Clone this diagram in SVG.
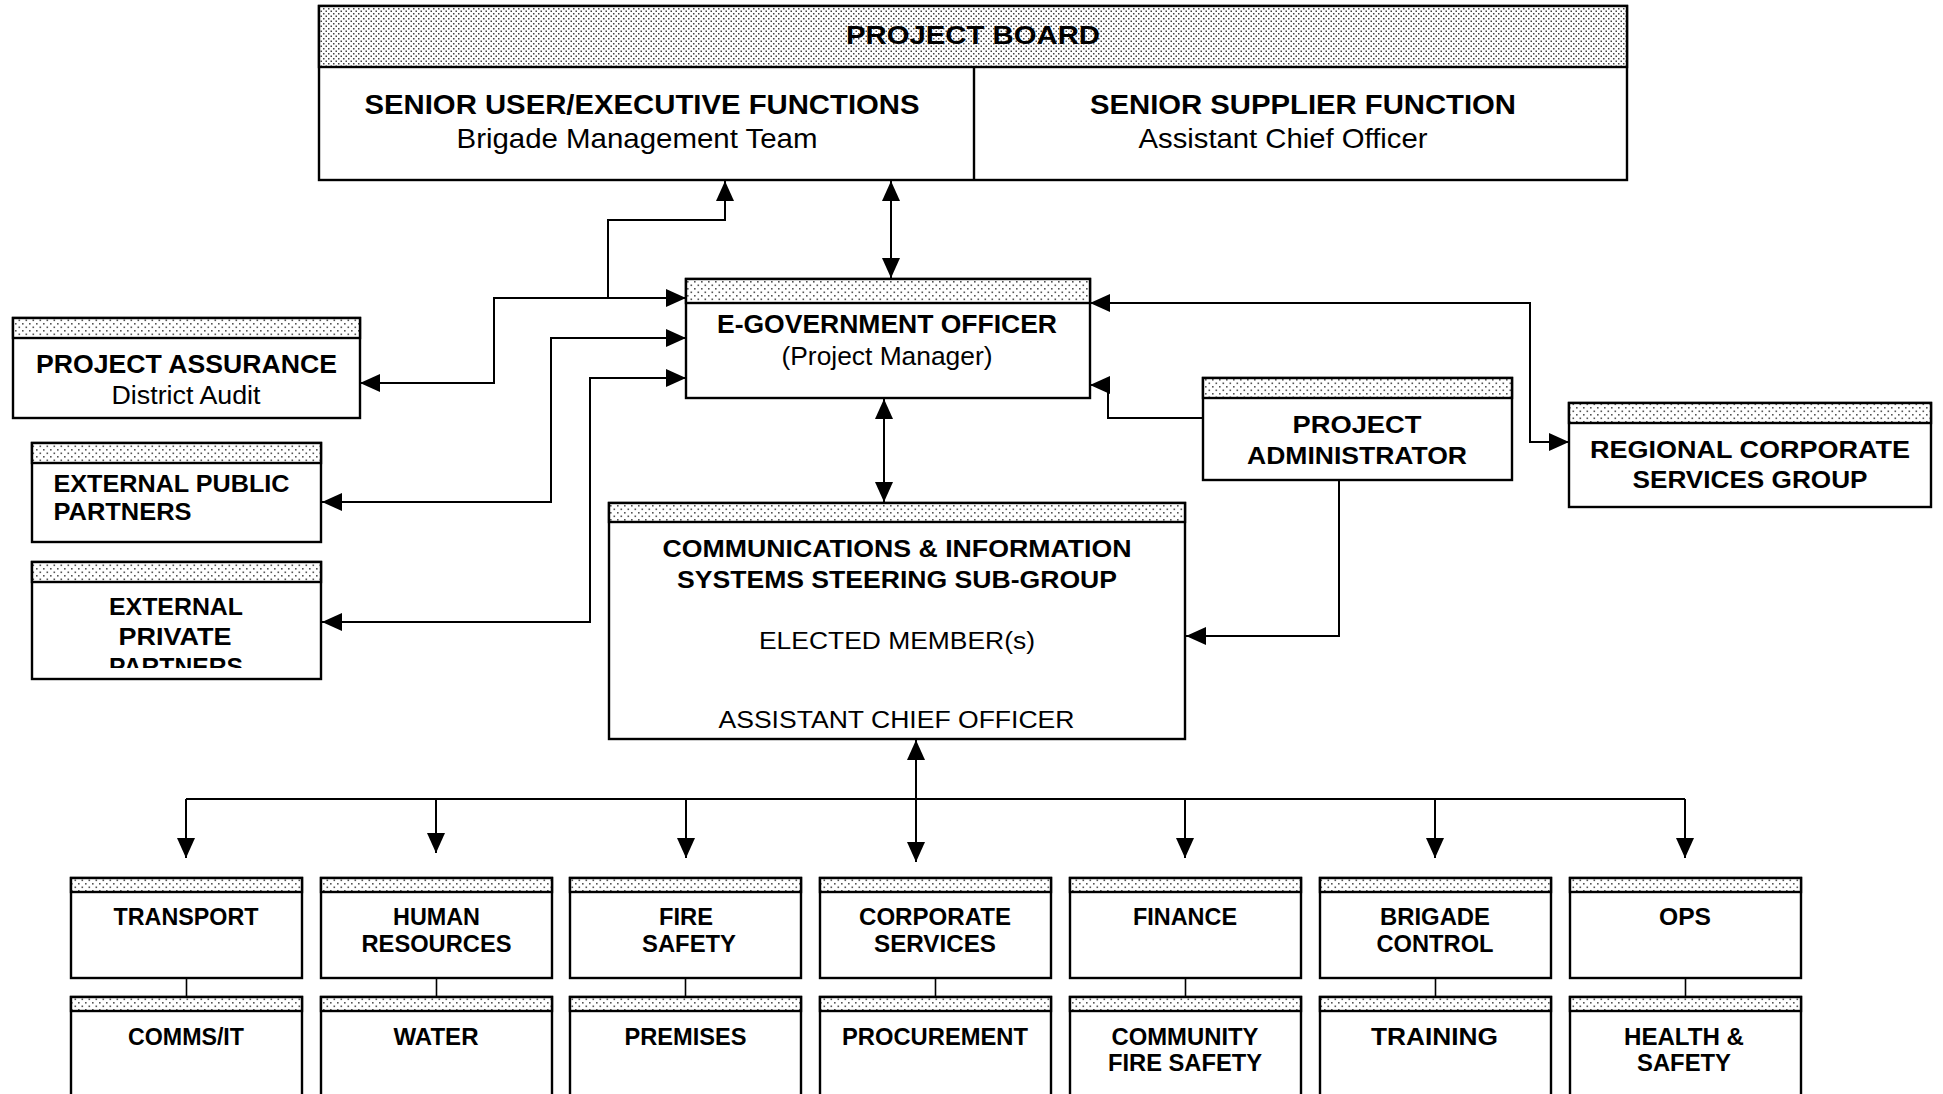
<svg xmlns="http://www.w3.org/2000/svg" width="1943" height="1094" viewBox="0 0 1943 1094">
<style>
.box{fill:#fff;stroke:#000;stroke-width:2.4}
.hd{fill:url(#dots);stroke:#000;stroke-width:2.4}
.hdb{fill:url(#dotsB);stroke:#000;stroke-width:2.4}
.ln{fill:none;stroke:#000;stroke-width:2}
.lk{fill:none;stroke:#000;stroke-width:1.6}
text{font-family:"Liberation Sans",Arial,sans-serif;fill:#000;text-anchor:middle}
.b{font-weight:bold}
.l{text-anchor:start}
</style>
<defs>
<pattern id="dots" width="7" height="7" patternUnits="userSpaceOnUse"><rect width="7" height="7" fill="#fff"/><rect x="1" y="1" width="1.6" height="1.6" fill="#555"/><rect x="4.5" y="4.5" width="1.6" height="1.6" fill="#555"/></pattern>
<pattern id="dotsB" width="5" height="5" patternUnits="userSpaceOnUse"><rect width="5" height="5" fill="#fff"/><rect x="0.5" y="0.5" width="1.5" height="1.5" fill="#444"/><rect x="3" y="3" width="1.5" height="1.5" fill="#444"/></pattern>
<marker id="ar" markerUnits="userSpaceOnUse" markerWidth="20" markerHeight="18" refX="20" refY="9" orient="auto-start-reverse" viewBox="0 0 20 18"><path d="M0,0 L20,9 L0,18 z" fill="#000"/></marker>
<clipPath id="clipPriv"><rect x="32" y="582" width="289" height="86"/></clipPath>
</defs>

<g id="connectors">
<path class="ln" d="M360,383 H494 V298 H686" marker-start="url(#ar)" marker-end="url(#ar)"/>
<path class="ln" d="M608,298 V220 H725 V181" marker-end="url(#ar)"/>
<path class="ln" d="M686,338 H551 V502 H322" marker-start="url(#ar)" marker-end="url(#ar)"/>
<path class="ln" d="M686,378 H590 V622 H322" marker-start="url(#ar)" marker-end="url(#ar)"/>
<path class="ln" d="M891,181 V278" marker-start="url(#ar)" marker-end="url(#ar)"/>
<path class="ln" d="M884,399 V502" marker-start="url(#ar)" marker-end="url(#ar)"/>
<path class="ln" d="M1090,303 H1530 V442 H1569" marker-start="url(#ar)" marker-end="url(#ar)"/>
<path class="ln" d="M1203,418 H1108 V385 H1090" marker-end="url(#ar)"/>
<path class="ln" d="M1339,480 V636 H1186" marker-end="url(#ar)"/>
<path class="ln" d="M916,740 V862" marker-start="url(#ar)" marker-end="url(#ar)"/>
<path class="ln" d="M186,799 H1685"/>
<path class="ln" d="M186,799 V858" marker-end="url(#ar)"/>
<path class="ln" d="M436,799 V853" marker-end="url(#ar)"/>
<path class="ln" d="M686,799 V858" marker-end="url(#ar)"/>
<path class="ln" d="M1185,799 V858" marker-end="url(#ar)"/>
<path class="ln" d="M1435,799 V858" marker-end="url(#ar)"/>
<path class="ln" d="M1685,799 V858" marker-end="url(#ar)"/>
<path class="lk" d="M186.5,978 V997 M436.5,978 V997 M685.5,978 V997 M935.5,978 V997 M1185.5,978 V997 M1435.5,978 V997 M1685.5,978 V997"/>
</g>

<g id="project-board">
<rect class="box" x="319" y="6" width="1308" height="174"/>
<rect class="hdb" x="319" y="6" width="1308" height="61"/>
<line x1="974" y1="67" x2="974" y2="180" stroke="#000" stroke-width="2.4"/>
<text class="b" x="973" y="44" font-size="25" textLength="254" lengthAdjust="spacingAndGlyphs">PROJECT BOARD</text>
<text class="b" x="642" y="114" font-size="27.5" textLength="555" lengthAdjust="spacingAndGlyphs">SENIOR USER/EXECUTIVE FUNCTIONS</text>
<text x="637" y="148" font-size="27.5" textLength="361" lengthAdjust="spacingAndGlyphs">Brigade Management Team</text>
<text class="b" x="1303" y="114" font-size="27.5" textLength="426" lengthAdjust="spacingAndGlyphs">SENIOR SUPPLIER FUNCTION</text>
<text x="1283" y="148" font-size="27.5" textLength="289" lengthAdjust="spacingAndGlyphs">Assistant Chief Officer</text>
</g>

<g id="project-assurance">
<rect class="box" x="13" y="318" width="347" height="100"/>
<rect class="hd" x="13" y="318" width="347" height="20"/>
<text class="b" x="186.5" y="373" font-size="26.5" textLength="301" lengthAdjust="spacingAndGlyphs">PROJECT ASSURANCE</text>
<text x="186" y="404" font-size="25.5" textLength="149" lengthAdjust="spacingAndGlyphs">District Audit</text>
</g>

<g id="e-government-officer">
<rect class="box" x="686" y="279" width="404" height="119"/>
<rect class="hd" x="686" y="279" width="404" height="24"/>
<text class="b" x="887" y="333" font-size="26.5" textLength="340" lengthAdjust="spacingAndGlyphs">E-GOVERNMENT OFFICER</text>
<text x="887" y="365" font-size="26.5" textLength="211" lengthAdjust="spacingAndGlyphs">(Project Manager)</text>
</g>

<g id="external-public-partners">
<rect class="box" x="32" y="443" width="289" height="99"/>
<rect class="hd" x="32" y="443" width="289" height="20"/>
<text class="b l" x="53.5" y="492" font-size="24.5" textLength="236" lengthAdjust="spacingAndGlyphs">EXTERNAL PUBLIC</text>
<text class="b l" x="53.5" y="520" font-size="24.5" textLength="138" lengthAdjust="spacingAndGlyphs">PARTNERS</text>
</g>

<g id="external-private-partners">
<rect class="box" x="32" y="562" width="289" height="117"/>
<rect class="hd" x="32" y="562" width="289" height="20"/>
<g clip-path="url(#clipPriv)">
<text class="b" x="176" y="615" font-size="24.5" textLength="134" lengthAdjust="spacingAndGlyphs">EXTERNAL</text>
<text class="b" x="175" y="645" font-size="24.5" textLength="113" lengthAdjust="spacingAndGlyphs">PRIVATE</text>
<text class="b" x="176" y="675" font-size="24.5" textLength="134" lengthAdjust="spacingAndGlyphs">PARTNERS</text>
</g>
</g>

<g id="project-administrator">
<rect class="box" x="1203" y="378" width="309" height="102"/>
<rect class="hd" x="1203" y="378" width="309" height="20"/>
<text class="b" x="1357" y="433" font-size="24.5" textLength="129" lengthAdjust="spacingAndGlyphs">PROJECT</text>
<text class="b" x="1357" y="464" font-size="24.5" textLength="220" lengthAdjust="spacingAndGlyphs">ADMINISTRATOR</text>
</g>

<g id="regional-corporate-services-group">
<rect class="box" x="1569" y="403" width="362" height="104"/>
<rect class="hd" x="1569" y="403" width="362" height="20"/>
<text class="b" x="1750" y="458" font-size="24" textLength="320" lengthAdjust="spacingAndGlyphs">REGIONAL CORPORATE</text>
<text class="b" x="1750" y="488" font-size="24" textLength="235" lengthAdjust="spacingAndGlyphs">SERVICES GROUP</text>
</g>

<g id="cis-steering-sub-group">
<rect class="box" x="609" y="503" width="576" height="236"/>
<rect class="hd" x="609" y="503" width="576" height="19"/>
<text class="b" x="897" y="557" font-size="24.5" textLength="469" lengthAdjust="spacingAndGlyphs">COMMUNICATIONS &amp; INFORMATION</text>
<text class="b" x="897" y="588" font-size="24.5" textLength="440" lengthAdjust="spacingAndGlyphs">SYSTEMS STEERING SUB-GROUP</text>
<text x="897" y="649" font-size="23.5" textLength="276" lengthAdjust="spacingAndGlyphs">ELECTED MEMBER(s)</text>
<text x="896.5" y="728" font-size="23.5" textLength="356" lengthAdjust="spacingAndGlyphs">ASSISTANT CHIEF OFFICER</text>
</g>

<g id="transport">
<rect class="box" x="71" y="878" width="231" height="100"/>
<rect class="hd" x="71" y="878" width="231" height="14"/>
<text class="b" x="186" y="925" font-size="23" textLength="145" lengthAdjust="spacingAndGlyphs">TRANSPORT</text>
</g>
<g id="human-resources">
<rect class="box" x="321" y="878" width="231" height="100"/>
<rect class="hd" x="321" y="878" width="231" height="14"/>
<text class="b" x="436.5" y="925" font-size="23" textLength="87" lengthAdjust="spacingAndGlyphs">HUMAN</text>
<text class="b" x="436.5" y="952" font-size="23" textLength="150" lengthAdjust="spacingAndGlyphs">RESOURCES</text>
</g>
<g id="fire-safety">
<rect class="box" x="570" y="878" width="231" height="100"/>
<rect class="hd" x="570" y="878" width="231" height="14"/>
<text class="b" x="686" y="925" font-size="23" textLength="54" lengthAdjust="spacingAndGlyphs">FIRE</text>
<text class="b" x="689" y="952" font-size="23" textLength="94" lengthAdjust="spacingAndGlyphs">SAFETY</text>
</g>
<g id="corporate-services">
<rect class="box" x="820" y="878" width="231" height="100"/>
<rect class="hd" x="820" y="878" width="231" height="14"/>
<text class="b" x="935" y="925" font-size="23" textLength="152" lengthAdjust="spacingAndGlyphs">CORPORATE</text>
<text class="b" x="935" y="952" font-size="23" textLength="122" lengthAdjust="spacingAndGlyphs">SERVICES</text>
</g>
<g id="finance">
<rect class="box" x="1070" y="878" width="231" height="100"/>
<rect class="hd" x="1070" y="878" width="231" height="14"/>
<text class="b" x="1185" y="925" font-size="23" textLength="104" lengthAdjust="spacingAndGlyphs">FINANCE</text>
</g>
<g id="brigade-control">
<rect class="box" x="1320" y="878" width="231" height="100"/>
<rect class="hd" x="1320" y="878" width="231" height="14"/>
<text class="b" x="1435" y="925" font-size="23" textLength="110" lengthAdjust="spacingAndGlyphs">BRIGADE</text>
<text class="b" x="1435" y="952" font-size="23" textLength="117" lengthAdjust="spacingAndGlyphs">CONTROL</text>
</g>
<g id="ops">
<rect class="box" x="1570" y="878" width="231" height="100"/>
<rect class="hd" x="1570" y="878" width="231" height="14"/>
<text class="b" x="1685" y="925" font-size="23" textLength="52" lengthAdjust="spacingAndGlyphs">OPS</text>
</g>

<g id="comms-it">
<rect class="box" x="71" y="997" width="231" height="110"/>
<rect class="hd" x="71" y="997" width="231" height="14"/>
<text class="b" x="186" y="1045" font-size="23" textLength="116" lengthAdjust="spacingAndGlyphs">COMMS/IT</text>
</g>
<g id="water">
<rect class="box" x="321" y="997" width="231" height="110"/>
<rect class="hd" x="321" y="997" width="231" height="14"/>
<text class="b" x="436" y="1045" font-size="23" textLength="85" lengthAdjust="spacingAndGlyphs">WATER</text>
</g>
<g id="premises">
<rect class="box" x="570" y="997" width="231" height="110"/>
<rect class="hd" x="570" y="997" width="231" height="14"/>
<text class="b" x="685.5" y="1045" font-size="23" textLength="122" lengthAdjust="spacingAndGlyphs">PREMISES</text>
</g>
<g id="procurement">
<rect class="box" x="820" y="997" width="231" height="110"/>
<rect class="hd" x="820" y="997" width="231" height="14"/>
<text class="b" x="935" y="1045" font-size="23" textLength="186" lengthAdjust="spacingAndGlyphs">PROCUREMENT</text>
</g>
<g id="community-fire-safety">
<rect class="box" x="1070" y="997" width="231" height="110"/>
<rect class="hd" x="1070" y="997" width="231" height="14"/>
<text class="b" x="1185" y="1045" font-size="23" textLength="147" lengthAdjust="spacingAndGlyphs">COMMUNITY</text>
<text class="b" x="1185" y="1071" font-size="23" textLength="154" lengthAdjust="spacingAndGlyphs">FIRE SAFETY</text>
</g>
<g id="training">
<rect class="box" x="1320" y="997" width="231" height="110"/>
<rect class="hd" x="1320" y="997" width="231" height="14"/>
<text class="b" x="1434.5" y="1045" font-size="23" textLength="127" lengthAdjust="spacingAndGlyphs">TRAINING</text>
</g>
<g id="health-safety">
<rect class="box" x="1570" y="997" width="231" height="110"/>
<rect class="hd" x="1570" y="997" width="231" height="14"/>
<text class="b" x="1684" y="1045" font-size="23" textLength="120" lengthAdjust="spacingAndGlyphs">HEALTH &amp;</text>
<text class="b" x="1684" y="1071" font-size="23" textLength="94" lengthAdjust="spacingAndGlyphs">SAFETY</text>
</g>
</svg>
